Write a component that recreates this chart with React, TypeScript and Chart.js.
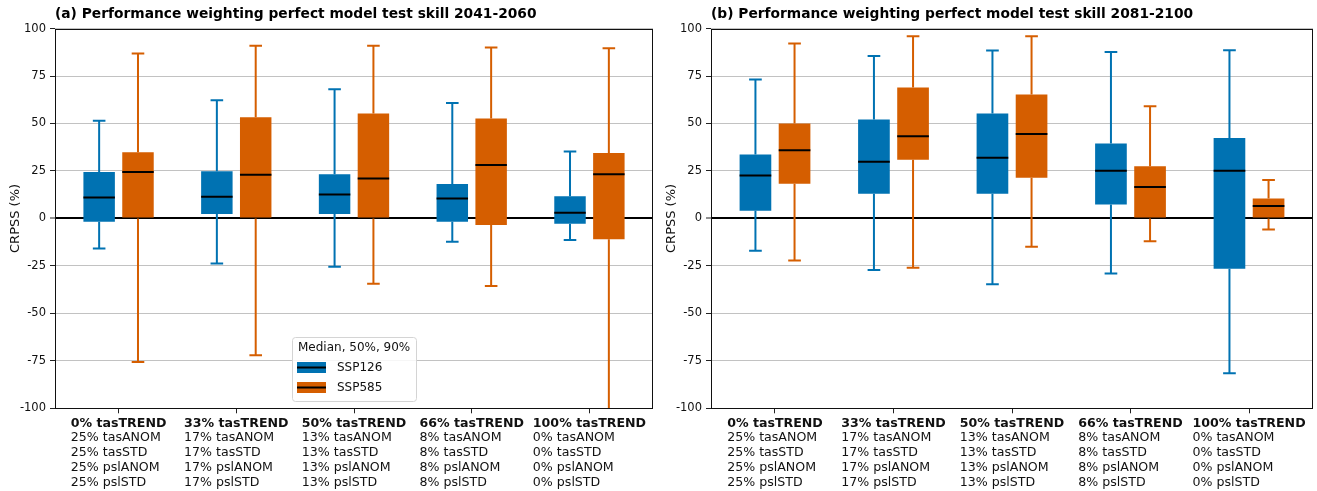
import React, { useEffect, useRef } from 'react';
import Chart from 'chart.js/auto';

// ---------- data ----------
const trendLabels = ['0% tasTREND', '33% tasTREND', '50% tasTREND', '66% tasTREND', '100% tasTREND'];
const otherWeights = ['25%', '17%', '13%', '8%', '0%'];
const otherVars = ['tasANOM', 'tasSTD', 'pslANOM', 'pslSTD'];
const yTicks = [100, 75, 50, 25, 0, -25, -50, -75, -100];
const scenarioNames = ['SSP126', 'SSP585'];
const legendTitle = 'Median, 50%, 90%';
const yTitle = 'CRPSS (%)';
const titleA = '(a) Performance weighting perfect model test skill 2041-2060';
const titleB = '(b) Performance weighting perfect model test skill 2081-2100';

// each entry: [lower whisker (5%), 25%, median, 75%, upper whisker (95%)]
const ssp126_2041: number[][] = [
  [-15.8, -1.8, 11.0, 24.4, 51.4],
  [-23.7, 2.3, 11.4, 24.9, 62.3],
  [-25.5, 2.3, 12.6, 23.3, 68.0],
  [-12.3, -1.8, 10.5, 18.1, 60.8],
  [-11.4, -2.8, 3.0, 11.7, 35.3],
];
const ssp585_2041: number[][] = [
  [-75.6, 0.0, 24.5, 34.9, 86.8],
  [-72.1, 0.0, 23.0, 53.3, 91.0],
  [-34.4, 0.0, 21.0, 55.3, 91.0],
  [-35.6, -3.4, 28.2, 52.6, 90.0],
  [-108.0, -10.9, 23.3, 34.4, 89.6],
];
const ssp126_2081: number[][] = [
  [-17.0, 4.0, 22.6, 33.7, 73.2],
  [-27.2, 13.0, 29.8, 52.1, 85.6],
  [-34.6, 13.0, 31.9, 55.3, 88.4],
  [-29.0, 7.4, 25.1, 39.5, 87.7],
  [-81.6, -26.5, 25.1, 42.3, 88.6],
];
const ssp585_2081: number[][] = [
  [-22.1, 18.2, 35.9, 50.0, 92.1],
  [-26.0, 30.9, 43.3, 69.0, 96.0],
  [-14.9, 21.4, 44.5, 65.3, 96.0],
  [-12.0, 0.0, 16.6, 27.5, 59.1],
  [-5.8, 0.0, 6.6, 10.5, 20.2],
];

// ---------- style ----------
const FONT = "'DejaVu Sans', sans-serif";
const BLUE = '#0072B2';
const ORANGE = '#D55E00';
const TEXT = '#111111';
const H = 491;

type PanelProps = {
  title: string;
  s126: number[][];
  s585: number[][];
  legend: boolean;
  width: number;
  axisWidth: number;
  padRight: number;
  yTitlePad: number;
};

function makePlugin(statsList: number[][][], colors: string[], legend: boolean) {
  return {
    id: 'boxExtras',
    afterDatasetsDraw(chart: any) {
      const { ctx, chartArea } = chart;
      const y = chart.scales.y;
      ctx.save();
      ctx.beginPath();
      ctx.rect(chartArea.left, chartArea.top, chartArea.right - chartArea.left, chartArea.bottom - chartArea.top);
      ctx.clip();
      const line = (x1: number, y1: number, x2: number, y2: number) => {
        ctx.beginPath();
        ctx.moveTo(x1, y1);
        ctx.lineTo(x2, y2);
        ctx.stroke();
      };
      statsList.forEach((stats, d) => {
        const meta = chart.getDatasetMeta(d);
        meta.data.forEach((bar: any, i: number) => {
          const [lo, q1, med, q3, hi] = stats[i];
          const { x, width } = bar.getProps(['x', 'width'], true);
          const capW = width * 0.4;
          ctx.strokeStyle = colors[d];
          ctx.lineWidth = 2;
          ctx.lineCap = 'butt';
          const pLo = y.getPixelForValue(lo);
          const pHi = y.getPixelForValue(hi);
          line(x, y.getPixelForValue(q3), x, pHi);
          line(x, y.getPixelForValue(q1), x, pLo);
          line(x - capW / 2, pHi, x + capW / 2, pHi);
          line(x - capW / 2, pLo, x + capW / 2, pLo);
          ctx.strokeStyle = '#000';
          ctx.lineWidth = 2;
          const pm = y.getPixelForValue(med);
          line(x - width / 2, pm, x + width / 2, pm);
        });
      });
      ctx.restore();
    },
    afterDraw(chart: any) {
      const { ctx, chartArea } = chart;
      const xs = chart.scales.x;
      ctx.save();
      // frame
      const l = Math.round(chartArea.left);
      const r = Math.round(chartArea.right);
      const t = Math.round(chartArea.top);
      const b = Math.round(chartArea.bottom);
      ctx.strokeStyle = '#111';
      ctx.lineWidth = 1;
      ctx.strokeRect(l + 0.5, t + 0.5, r - l - 1, b - t);
      // x labels
      ctx.fillStyle = TEXT;
      ctx.textBaseline = 'middle';
      ctx.textAlign = 'left';
      trendLabels.forEach((lab, i) => {
        const px = xs.getPixelForValue(i);
        ctx.font = `bold 12.6px ${FONT}`;
        const w = ctx.measureText(lab).width;
        const x0 = px - w / 2;
        const y0 = chartArea.bottom + 15;
        ctx.fillText(lab, x0, y0);
        ctx.font = `12.6px ${FONT}`;
        otherVars.forEach((v, k) => {
          ctx.fillText(`${otherWeights[i]} ${v}`, x0, y0 + 14.8 * (k + 1));
        });
      });
      // legend
      if (legend) {
        const lx = chartArea.left + 237;
        const ly = 337;
        const lw = 124;
        const lh = 64;
        ctx.beginPath();
        ctx.roundRect(lx + 0.5, ly + 0.5, lw, lh, 3);
        ctx.fillStyle = 'rgba(255,255,255,0.85)';
        ctx.fill();
        ctx.strokeStyle = '#d4d4d4';
        ctx.lineWidth = 1;
        ctx.stroke();
        ctx.fillStyle = TEXT;
        ctx.font = `12px ${FONT}`;
        ctx.textBaseline = 'middle';
        ctx.fillText(legendTitle, lx + 6, ly + 11);
        scenarioNames.forEach((name, k) => {
          const py = ly + 25 + k * 20;
          ctx.fillStyle = colors[k];
          ctx.fillRect(lx + 5, py, 29, 11);
          ctx.fillStyle = '#000';
          ctx.fillRect(lx + 5, py + 4.5, 29, 2);
          ctx.fillStyle = TEXT;
          ctx.fillText(name, lx + 45, py + 6);
        });
      }
      ctx.restore();
    },
  };
}

function Panel(props: PanelProps) {
  const ref = useRef<HTMLCanvasElement>(null);
  useEffect(() => {
    const { title, s126, s585, legend, axisWidth, padRight, yTitlePad } = props;
    const statsList = [s126, s585];
    const colors = [BLUE, ORANGE];
    const chart = new Chart(ref.current as HTMLCanvasElement, {
      type: 'bar',
      data: {
        datasets: statsList.map((stats, d) => ({
          label: scenarioNames[d],
          data: stats.map((st, i) => ({ x: i, y: [st[1], st[3]] })),
          backgroundColor: colors[d],
          borderWidth: 0,
          categoryPercentage: 0.66,
          barPercentage: 0.81,
        })) as any,
      },
      options: {
        responsive: false,
        animation: false,
        events: [],
        layout: { padding: { left: 0, right: padRight, top: 0, bottom: 0 } },
        plugins: {
          legend: { display: false },
          tooltip: { enabled: false },
          title: {
            display: true,
            text: title,
            align: 'start',
            fullSize: false,
            color: '#000',
            font: { family: FONT, size: 13.8, weight: 'bold' },
            padding: { top: 6, bottom: 6 },
          },
        },
        scales: {
          x: {
            type: 'linear',
            min: -0.54,
            max: 4.54,
            offset: false,
            afterBuildTicks: (s: any) => {
              s.ticks = trendLabels.map((_, i) => ({ value: i }));
            },
            afterFit: (s: any) => {
              s.height = 82.7;
            },
            ticks: { display: false },
            grid: {
              display: true,
              drawOnChartArea: false,
              drawTicks: true,
              tickLength: 5,
              tickColor: '#222',
              tickWidth: 1,
              offset: false,
            },
            border: { display: false },
          },
          y: {
            type: 'linear',
            min: -100,
            max: 100,
            afterBuildTicks: (s: any) => {
              s.ticks = yTicks.map((v) => ({ value: v }));
            },
            afterFit: (s: any) => {
              s.width = axisWidth;
            },
            ticks: { font: { family: FONT, size: 11.5 }, color: TEXT, padding: 4 },
            grid: {
              color: (c: any) => (c.tick && c.tick.value === 0 ? '#000' : '#c2c2c2'),
              lineWidth: (c: any) => (c.tick && c.tick.value === 0 ? 2 : 1),
              tickColor: '#222',
              tickWidth: 1,
              tickLength: 5,
              drawTicks: true,
            },
            border: { display: false },
            title: {
              display: true,
              text: yTitle,
              color: TEXT,
              font: { family: FONT, size: 13 },
              padding: { top: yTitlePad, bottom: 0 },
            },
          },
        },
      } as any,
      plugins: [makePlugin(statsList, colors, legend)],
    });
    return () => chart.destroy();
  }, []);
  return (
    <canvas
      ref={ref}
      width={props.width}
      height={H}
      style={{ display: 'block', width: props.width, height: H }}
    />
  );
}

export default function App() {
  return (
    <div
      style={{
        position: 'absolute',
        left: 0,
        top: 0,
        width: 1317,
        height: H,
        display: 'flex',
        background: '#fff',
        overflow: 'hidden',
      }}
    >
      <Panel title={titleA} s126={ssp126_2041} s585={ssp585_2041} legend={true} width={660} axisWidth={55} padRight={7} yTitlePad={7.5} />
      <Panel title={titleB} s126={ssp126_2081} s585={ssp585_2081} legend={false} width={657} axisWidth={51} padRight={4} yTitlePad={3.9} />
    </div>
  );
}
